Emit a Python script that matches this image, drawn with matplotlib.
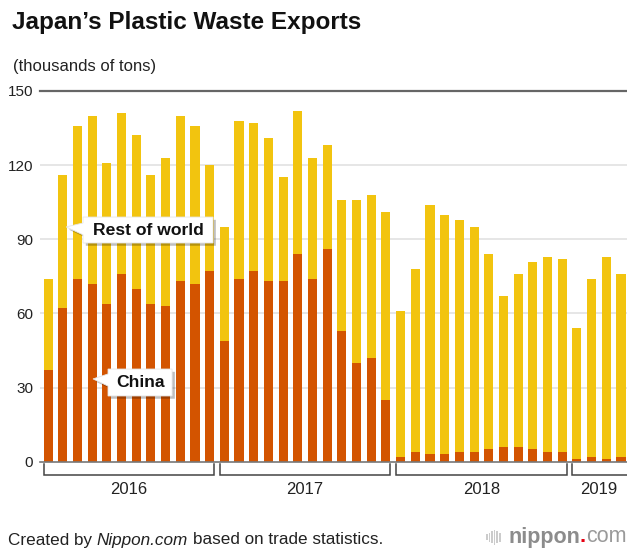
import matplotlib
matplotlib.use("Agg")
from matplotlib import pyplot as plt
from matplotlib.patches import Polygon, Rectangle
import matplotlib.patheffects as pe
import numpy as np

plt.rcParams['font.family'] = ['Liberation Sans', 'DejaVu Sans']

# monthly exports, thousands of tons (Jan 2016 - Apr 2019)
china = [37, 62, 74, 72, 64, 76, 70, 64, 63, 73, 72, 77,
         49, 74, 77, 73, 73, 84, 74, 86, 53, 40, 42, 25,
         2, 4, 3, 3, 4, 4, 5, 6, 6, 5, 4, 4,
         1, 2, 1, 2]
total = [74, 116, 136, 140, 121, 141, 132, 116, 123, 140, 136, 120,
         95, 138, 137, 131, 115, 142, 123, 128, 106, 106, 108, 101,
         61, 78, 104, 100, 98, 95, 84, 67, 76, 81, 83, 82,
         54, 74, 83, 76]
rest = [t - c for t, c in zip(total, china)]

years = ['2016', '2017', '2018', '2019']
months_in_year = [12, 12, 12, 4]
yticks = [0, 30, 60, 90, 120, 150]

c_china = '#d35400'
c_rest = '#f2c40f'

fig = plt.figure(figsize=(6.27, 5.48), dpi=100)
W, H = 627, 548
ax = fig.add_axes([40 / W, (H - 461.7) / H, 587 / W, (461.7 - 91) / H])

x = np.arange(len(china))
ax.bar(x, china, width=0.62, color=c_china, zorder=2)
ax.bar(x, rest, width=0.62, bottom=china, color=c_rest, zorder=2)

ax.set_xlim(-0.55, 39.41)
ax.set_ylim(0, 150)
for s in ax.spines.values():
    s.set_visible(False)
ax.set_xticks([])
ax.set_yticks(yticks)
ax.tick_params(axis='y', length=0, pad=5, labelsize=11, labelcolor='#222222')

for v in yticks[1:-1]:
    ax.axhline(v, color='#e2e2e2', lw=1.2, zorder=0)
ax.axhline(150, color='#666666', lw=1.6, zorder=1, clip_on=False)
ax.axhline(0, color='#777777', lw=1.2, zorder=3, clip_on=False)

# year brackets under the axis (the last one runs off the right edge)
start = 0
for yr, n in zip(years, months_in_year):
    x0, x1 = start - 0.31, start + n - 1 + 0.31
    if start + n < len(china):
        bx, by = [x0, x0, x1, x1], [-1.0, -5.4, -5.4, -1.0]
    else:
        bx, by = [x0, x0, 39.41], [-1.0, -5.4, -5.4]
    ax.plot(bx, by, color='#444444', lw=1.1, clip_on=False, solid_joinstyle='miter')
    ax.text((start + start + n - 1) / 2, -11.3, yr, ha='center', va='center',
            fontsize=12, color='#222222')
    start += n

# callout labels
shadow = [pe.withSimplePatchShadow(offset=(2, -2), shadow_rgbFace='black', alpha=0.25)]


def callout(box, tail, text_xy, label):
    xl, xr, yb, yt = box
    ya, yb2, tip = tail
    verts = [(xl, yt), (xr, yt), (xr, yb), (xl, yb), (xl, yb2), tip, (xl, ya)]
    p = Polygon(verts, closed=True, fc='white', ec='#e6e6e6', lw=0.6,
                zorder=5, clip_on=False)
    p.set_path_effects(shadow)
    ax.add_patch(p)
    ax.text(*text_xy, label, ha='center', va='center', fontsize=12.6,
            fontweight='bold', color='#111111', zorder=6)


callout((2.38, 11.23, 88.5, 99.0), (96.6, 91.8, (1.23, 95.0)), (6.81, 93.5), 'Rest of world')
callout((4.08, 8.44, 26.6, 37.5), (35.5, 30.6, (3.06, 33.5)), (6.26, 31.9), 'China')

# title and unit
fig.text(12 / W, 1 - 22 / H, 'Japan\u2019s Plastic Waste Exports', fontsize=17.5,
         fontweight='bold', color='#111111', va='center', ha='left')
fig.text(13 / W, 1 - 67 / H, '(thousands of tons)', fontsize=12, color='#222222',
         va='center', ha='left')

# footer with italic site name
fig.canvas.draw()
r = fig.canvas.get_renderer()
fy = 1 - 540 / H
fs = 12.3
gap = fs * 0.278 * 100 / 72
t1 = fig.text(8 / W, fy, 'Created by', fontsize=fs, color='#222222', va='center')
e = t1.get_window_extent(r)
t2 = fig.text((e.x1 + gap) / W, fy, 'Nippon.com', fontsize=fs, style='italic',
              color='#222222', va='center')
e = t2.get_window_extent(r)
fig.text((e.x1 + gap) / W, fy, 'based on trade statistics.', fontsize=fs,
         color='#222222', va='center')

# nippon.com logo
ly = 1 - 537 / H
for i, h in enumerate([0.35, 0.6, 0.8, 1.0, 0.8, 0.6]):
    hh = 15 * h / H
    fig.patches.append(Rectangle(((486 + i * 2.6) / W, ly - hh / 2), 1.6 / W, hh,
                                 transform=fig.transFigure, fc='#cccccc', ec='none'))
l1 = fig.text(508 / W, ly, 'nippon', fontsize=15.5, fontweight='bold', color='#8c8c8c',
              va='center')
e = l1.get_window_extent(r)
l2 = fig.text(e.x1 / W, ly, '.', fontsize=15.5, fontweight='bold', color='#e60012',
              va='center')
e = l2.get_window_extent(r)
fig.text(e.x1 / W, ly, 'com', fontsize=15.5, color='#9a9a9a', va='center')

fig.savefig('out.png', dpi=100)
